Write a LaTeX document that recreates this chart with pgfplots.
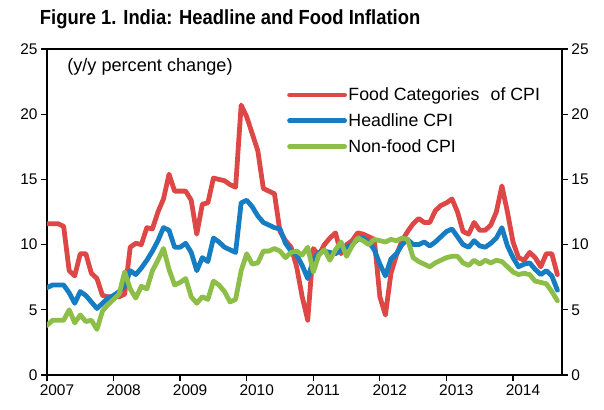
\documentclass[border=0pt]{standalone}
\usepackage{fontspec}
\setmainfont{Liberation Sans}
\newfontfamily\titlefont{Liberation Sans}[FakeStretch=0.9]
\usepackage{pgfplots}
\usepackage{pgfplotstable}
\pgfplotsset{compat=1.18}
\definecolor{cred}{RGB}{221,72,70}
\definecolor{cblue}{RGB}{22,125,194}
\definecolor{cgreen}{RGB}{141,190,72}

\pgfplotstableread{
m r b g
0 11.6 6.7 3.8
1 11.6 6.9 4.2
2 11.6 6.9 4.2
3 11.4 6.9 4.2
4 8.0 6.3 5.0
5 7.6 5.5 4.0
6 9.3 6.4 4.6
7 9.3 6.1 4.1
8 7.8 5.6 4.2
9 7.4 5.1 3.5
10 6.1 5.5 4.9
11 6.0 5.9 5.4
12 6.0 6.1 5.8
13 6.0 6.4 6.2
14 6.2 6.8 7.9
15 9.8 8.0 6.6
16 10.1 7.7 5.9
17 10.0 8.2 6.8
18 11.3 8.8 6.6
19 11.2 9.5 8.0
20 12.5 10.3 8.8
21 13.5 11.3 9.7
22 15.4 11.1 8.1
23 14.1 9.8 6.9
24 14.1 9.8 7.1
25 14.1 10.1 7.4
26 13.4 9.4 6.0
27 10.8 8.0 5.5
28 13.1 9.0 6.0
29 13.2 8.7 5.8
30 15.1 10.5 7.2
31 15.0 10.2 6.9
32 14.9 9.8 6.4
33 14.6 9.6 5.6
34 14.4 9.4 5.8
35 20.7 13.2 8.0
36 19.8 13.4 9.3
37 18.5 12.9 8.5
38 17.2 12.2 8.6
39 14.3 11.7 9.5
40 14.1 11.5 9.5
41 13.9 11.3 9.7
42 11.0 11.2 9.5
43 10.3 10.1 9.0
44 9.8 9.5 9.4
45 8.3 9.2 9.5
46 6.0 8.4 9.2
47 4.2 7.4 9.8
48 9.7 8.8 7.9
49 9.2 9.4 9.2
50 10.0 9.5 9.6
51 10.5 9.4 8.8
52 10.9 9.3 9.6
53 9.3 9.6 10.2
54 10.0 9.8 9.1
55 10.3 10.0 9.9
56 10.9 10.4 10.5
57 10.8 10.5 10.3
58 10.6 10.2 10.0
59 10.4 9.6 10.4
60 6.0 8.5 10.3
61 4.6 7.6 10.2
62 7.8 8.9 10.4
63 9.2 9.3 10.3
64 10.3 10.0 10.5
65 11.0 10.4 10.4
66 11.6 10.0 9.0
67 12.0 10.0 8.7
68 11.7 10.2 8.5
69 11.7 9.9 8.3
70 12.6 10.2 8.6
71 13.0 10.6 8.8
72 13.2 11.0 9.0
73 13.5 11.2 9.1
74 12.5 10.6 9.1
75 11.0 10.0 8.6
76 10.8 9.8 8.4
77 11.7 10.3 8.8
78 11.1 9.9 8.5
79 11.1 9.8 8.8
80 11.5 10.1 8.6
81 12.5 10.5 8.8
82 14.5 11.3 8.7
83 12.5 9.9 8.3
84 10.2 9.0 7.9
85 9.0 8.3 7.7
86 8.8 8.5 7.8
87 9.4 8.6 7.7
88 9.0 8.1 7.2
89 8.3 7.7 7.1
90 9.3 8.0 7.0
91 9.3 7.6 6.4
92 7.7 6.5 5.7
}\data

\pgfplotsset{
  common/.style={
    at={(0,0)}, anchor=south west,
    scale only axis, width=515bp, height=326bp,
    xmin=2007, xmax=2014.736, ymin=0, ymax=25,
    ytick={0,5,...,25},
    tick align=outside, major tick length=6bp,
    /pgf/number format/assume math mode=true,
    axis line style={line width=1.5bp, black},
    tick style={line width=1.3bp, black},
    y tick label style={font=\fontsize{15.5}{18}\selectfont},
    x tick label style={font=\fontsize{15.5}{18}\selectfont, /pgf/number format/1000 sep={}},
  }
}

\begin{document}
\begin{tikzpicture}
\begin{axis}[common,
  xtick={2007,...,2014},
  xtick pos=lower, ytick pos=left,
  x tick label style={xshift=10bp},
  title={\titlefont\bfseries Figure 1. India: Headline and Food Inflation},
  title style={font=\fontsize{20.5}{24}\selectfont, anchor=west, at={(rel axis cs:-0.014,1.0)}, yshift=24bp, inner sep=0pt},
  legend style={at={(rel axis cs:0.466,0.886)}, anchor=north west, draw=none, fill=none, inner sep=0pt, row sep=8.5bp,
    nodes={inner sep=1.5bp, anchor=west, font=\fontsize{17.8}{20}\selectfont}},
  legend cell align=left,
  legend image code/.code={\draw[#1] (0bp,0bp) -- (55bp,0bp);},
  every axis plot/.append style={line width=4.8bp, line join=round, line cap=round},
]
\addplot[cred] table[x expr=2007+\thisrow{m}/12, y=r] {\data};
\addlegendentry{Food Categories\hspace{0.35em} of CPI}
\addplot[cblue] table[x expr=2007+\thisrow{m}/12, y=b] {\data};
\addlegendentry{Headline CPI}
\addplot[cgreen] table[x expr=2007+\thisrow{m}/12, y=g] {\data};
\addlegendentry{Non-food CPI}
\node[anchor=west, font=\fontsize{18.2}{20}\selectfont, inner sep=0pt] at (rel axis cs:0.039,0.945) {(y/y percent change)};
\end{axis}
\begin{axis}[common,
  axis x line=none, axis y line*=right,
  ytick pos=right, yticklabel pos=right,
]
\addplot[draw=none] coordinates {(2007,0) (2014,25)};
\end{axis}
\pgfresetboundingbox
\path[use as bounding box] (-47bp,-35bp) rectangle (557bp,375bp);
\end{tikzpicture}
\end{document}
